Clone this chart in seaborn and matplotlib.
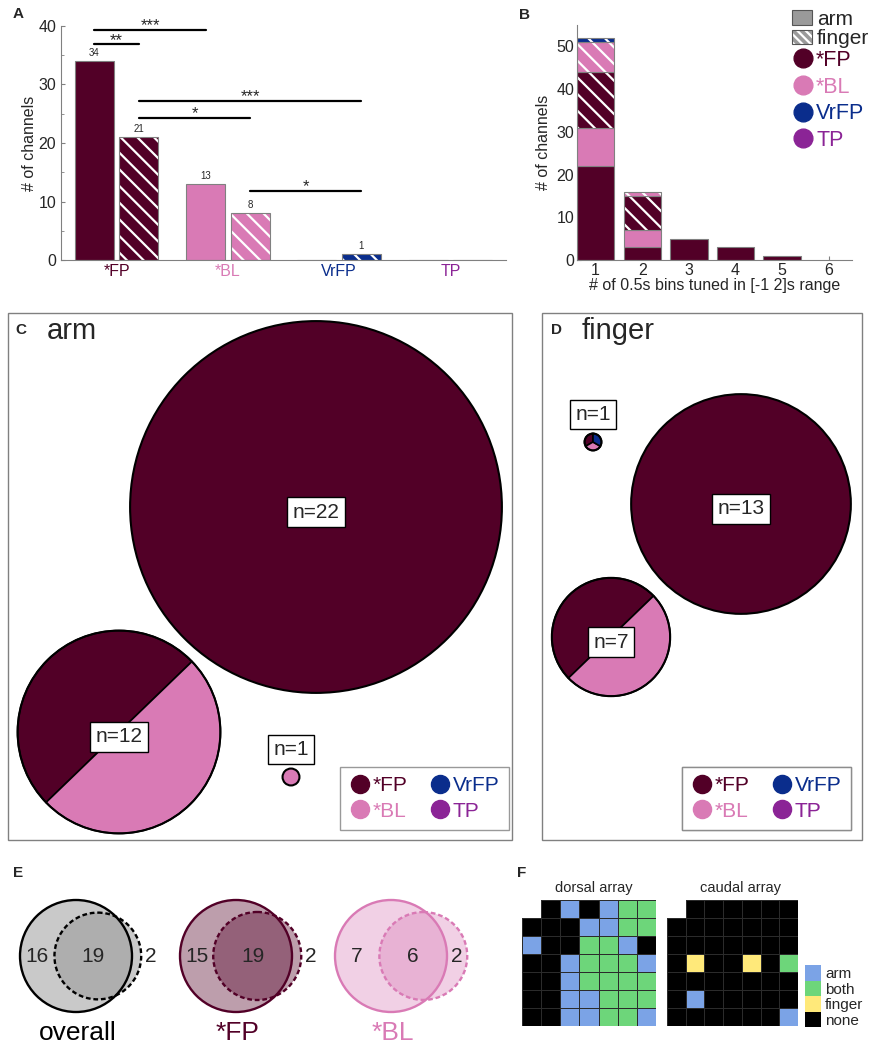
import numpy as np
import pandas as pd
import matplotlib
matplotlib.use("Agg")
import matplotlib.pyplot as plt
import matplotlib.patches as mpatches
from matplotlib.lines import Line2D
from matplotlib.colors import ListedColormap, to_rgba
from matplotlib.ticker import MultipleLocator
import seaborn as sns

sns.set_style("ticks")
plt.rcParams['font.family'] = ['Liberation Sans', 'DejaVu Sans']
plt.rcParams['hatch.linewidth'] = 1.6

W, H = 876, 1050

# ---- data ----
regions = ["*FP", "*BL", "VrFP", "TP"]
region_colors = ["#520027", "#D97AB5", "#0A2D8C", "#8B2496"]
arm_counts = [34, 13, 0, 0]
finger_counts = [21, 8, 1, 0]

# significance bars in A: (region, effector) pairs
sig_from = [("*FP", "arm"), ("*FP", "arm"), ("*FP", "finger"), ("*FP", "finger"), ("*BL", "finger")]
sig_to = [("*BL", "arm"), ("*FP", "finger"), ("VrFP", "finger"), ("*BL", "finger"), ("VrFP", "finger")]
sig_labels = ["***", "**", "***", "*", "*"]
sig_heights = [39.4, 36.9, 27.2, 24.3, 11.8]

# B: stacked counts per number of tuned bins
bins_tuned = [1, 2, 3, 4, 5, 6]
fp_arm_bins = [22, 3, 5, 3, 1, 0]
bl_arm_bins = [9, 4, 0, 0, 0, 0]
fp_finger_bins = [13, 8, 0, 0, 0, 0]
bl_finger_bins = [7, 1, 0, 0, 0, 0]
vrfp_finger_bins = [1, 0, 0, 0, 0, 0]

# C / D: groups of channels tuned in one or more arrays
arm_group_n = [22, 12, 1]
arm_group_regions = [["*FP"], ["*FP", "*BL"], ["*BL"]]
finger_group_n = [13, 7, 1]
finger_group_regions = [["*FP"], ["*FP", "*BL"], ["*FP", "*BL", "VrFP"]]

# E: venn counts (arm only, both, finger only)
venn_names = ["overall", "*FP", "*BL"]
venn_arm_only = [16, 15, 7]
venn_both = [19, 19, 6]
venn_finger_only = [2, 2, 2]

# F: electrode maps  a=arm b=both f=finger n=none .=no electrode
dorsal_map = [".nanabb",
              "nnnaabb",
              "annbban",
              "nnabbba",
              "nnabbbb",
              "nnaabbb",
              "nnaabba"]
caudal_map = [".nnnnnn",
              "nnnnnnn",
              "nnnnnnn",
              "nfnnfnb",
              "nnnnnnn",
              "nannnnn",
              "nnnnnna"]
state_names = ["none", "finger", "both", "arm"]
state_colors = ["#000000", "#FFE97A", "#6DD67A", "#7BA3E6"]

col_of = dict(zip(regions, region_colors))
GRAY = "#808080"

fig = plt.figure(figsize=(W / 100, H / 100), dpi=100)


def add_ax(x0, y0, x1, y1):
    return fig.add_axes([x0 / W, 1 - y1 / H, (x1 - x0) / W, (y1 - y0) / H])


def ftext(x, y, s, **kw):
    fig.text(x / W, 1 - y / H, s, **kw)


def white_hatch(p):
    if hasattr(p, "set_hatchcolor"):
        p.set_hatchcolor("white")
    else:
        p._hatch_color = to_rgba("white")


# ---- A ----
axA = add_ax(61, 26, 506, 260)
dfA = pd.DataFrame({"region": regions * 2,
                    "effector": ["arm"] * 4 + ["finger"] * 4,
                    "count": arm_counts + finger_counts})
sns.barplot(data=dfA, x="region", y="count", hue="effector", order=regions,
            hue_order=["arm", "finger"], ax=axA, gap=0.12, errorbar=None,
            legend=False, edgecolor=GRAY, linewidth=0.8, saturation=1)
centers = {}
for cont, eff, vals in zip(axA.containers, ["arm", "finger"], [arm_counts, finger_counts]):
    for bar, reg in zip(cont, regions):
        bar.set_facecolor(col_of[reg])
        if eff == "finger":
            bar.set_hatch("\\\\")
            white_hatch(bar)
        centers[(reg, eff)] = bar.get_x() + bar.get_width() / 2
    axA.bar_label(cont, labels=[str(v) if v > 0 else "" for v in vals], fontsize=7, padding=2)

for a, b, lab, h in zip(sig_from, sig_to, sig_labels, sig_heights):
    xa, xb = centers[a], centers[b]
    axA.plot([xa, xb], [h, h], color="black", lw=1.6, clip_on=False)
    axA.text((xa + xb) / 2, h - 0.1, lab, ha="center", va="baseline", fontsize=12)

axA.set_xlim(-0.5, 3.5)
axA.set_ylim(0, 40)
axA.set_yticks([0, 10, 20, 30, 40])
axA.yaxis.set_minor_locator(MultipleLocator(5))
axA.tick_params(axis="y", direction="in", length=3, labelsize=11.5, color=GRAY)
axA.tick_params(axis="y", which="minor", direction="in", length=2, color=GRAY)
axA.tick_params(axis="x", length=0, labelsize=11.5, pad=3)
for lbl, c in zip(axA.get_xticklabels(), region_colors):
    lbl.set_color(c)
sns.despine(ax=axA)
for s in ["left", "bottom"]:
    axA.spines[s].set_color(GRAY)
axA.set_xlabel("")
axA.set_ylabel("# of channels", fontsize=11.5, labelpad=1)

# ---- B ----
axB = add_ax(577, 25, 852, 260)
layers = [(fp_arm_bins, col_of["*FP"], False), (bl_arm_bins, col_of["*BL"], False),
          (fp_finger_bins, col_of["*FP"], True), (bl_finger_bins, col_of["*BL"], True),
          (vrfp_finger_bins, col_of["VrFP"], True)]
bottom = np.zeros(len(bins_tuned))
for vals, c, hatched in layers:
    vals = np.array(vals)
    keep = vals > 0
    bars = axB.bar(np.array(bins_tuned)[keep], vals[keep], bottom=bottom[keep], width=0.8,
                   color=c, edgecolor=GRAY, linewidth=0.8)
    if hatched:
        for bar in bars:
            bar.set_hatch("\\\\")
            white_hatch(bar)
    bottom += vals
axB.set_xlim(0.6, 6.5)
axB.set_ylim(0, 55)
axB.set_xticks(bins_tuned)
axB.set_yticks([0, 10, 20, 30, 40, 50])
axB.tick_params(direction="in", length=3, labelsize=11.5, color=GRAY, pad=2)
sns.despine(ax=axB)
for s in ["left", "bottom"]:
    axB.spines[s].set_color(GRAY)
axB.set_xlabel("# of 0.5s bins tuned in [-1 2]s range", fontsize=11.5, labelpad=0)
axB.set_ylabel("# of channels", fontsize=11.5, labelpad=4)

arm_h = mpatches.Patch(facecolor="#9a9a9a", edgecolor="#555555", lw=0.8)
fing_h = mpatches.Patch(facecolor="#9a9a9a", edgecolor="#555555", lw=0.8, hatch="\\\\\\\\")
white_hatch(fing_h)
legB1 = axB.legend([arm_h, fing_h], ["arm", "finger"], loc="upper left",
                   bbox_to_anchor=(792 / W, 1 - 10 / H), bbox_transform=fig.transFigure,
                   frameon=False, fontsize=15, handlelength=0.95, handleheight=0.7,
                   handletextpad=0.25, labelspacing=0.02, borderpad=0, borderaxespad=0)
axB.add_artist(legB1)
dot_h = [Line2D([], [], ls="", marker="o", markersize=13.5, markerfacecolor=c, markeredgecolor=c)
         for c in region_colors]
legB2 = axB.legend(dot_h, regions, loc="upper left",
                   bbox_to_anchor=(793 / W, 1 - 50 / H), bbox_transform=fig.transFigure,
                   frameon=False, fontsize=15.5, handlelength=0.95, handletextpad=0.12,
                   labelspacing=0.26, borderpad=0, borderaxespad=0)
for t, c in zip(legB2.get_texts(), region_colors):
    t.set_color(c)

# ---- overlay for C, D, E ----
ov = fig.add_axes([0, 0, 1, 1])
ov.set_xlim(0, W)
ov.set_ylim(H, 0)
ov.axis("off")

px_per_channel = 8.45


def draw_group(cx, cy, n, regs, start):
    r = px_per_channel * n
    k = len(regs)
    for i, reg in enumerate(regs):
        a1 = start + i * 360 / k
        a2 = a1 + 360 / k
        # y axis is inverted, so mirror angles
        ov.add_patch(mpatches.Wedge((cx, cy), r, -a2, -a1, facecolor=col_of[reg],
                                    edgecolor="black", lw=1.2 if k > 1 else 0))
    ov.add_patch(mpatches.Circle((cx, cy), r, fill=False, edgecolor="black", lw=1.5))
    box = dict(boxstyle="square,pad=0.25", fc="white", ec="black", lw=1)
    if r > 30:
        ov.text(cx, cy + 5, f"n={n}", ha="center", va="center", fontsize=15, bbox=box)
    else:
        ov.text(cx, cy - r - 19, f"n={n}", ha="center", va="center", fontsize=15, bbox=box)


def region_legend(x_right, y_bottom):
    hs = [Line2D([], [], ls="", marker="o", markersize=13, markerfacecolor=c, markeredgecolor=c)
          for c in region_colors]
    leg = ov.legend(hs, regions, ncol=2, loc="lower right", bbox_to_anchor=(x_right, y_bottom),
                    bbox_transform=ov.transData, fontsize=15, frameon=True, fancybox=False,
                    edgecolor=GRAY, handletextpad=0.1, columnspacing=1.1, labelspacing=0.3,
                    borderpad=0.45, handlelength=1.0, borderaxespad=0)
    leg.get_frame().set_linewidth(1)
    for t, c in zip(leg.get_texts(), region_colors):
        t.set_color(c)
    ov.add_artist(leg)


# C
ov.add_patch(mpatches.Rectangle((8, 313), 504, 527, fill=False, ec=GRAY, lw=1))
arm_centers = [(316, 507), (119, 732), (291, 777)]
arm_starts = [90, 44, 90]
for (cx, cy), n, regs, st in zip(arm_centers, arm_group_n, arm_group_regions, arm_starts):
    draw_group(cx, cy, n, regs, st)
region_legend(509, 830)
ftext(21, 330, "C", fontsize=11, fontweight="bold", ha="center", va="center")
ftext(47, 331, "arm", fontsize=21, ha="left", va="center")

# D
ov.add_patch(mpatches.Rectangle((542, 313), 320, 527, fill=False, ec=GRAY, lw=1))
finger_centers = [(741, 504), (611, 637), (593, 442)]
finger_starts = [90, 44, 90]
for (cx, cy), n, regs, st in zip(finger_centers, finger_group_n, finger_group_regions, finger_starts):
    draw_group(cx, cy, n, regs, st)
region_legend(851, 830)
ftext(556, 330, "D", fontsize=11, fontweight="bold", ha="center", va="center")
ftext(582, 331, "finger", fontsize=21, ha="left", va="center")


# E
def lens_area(r1, r2, d):
    if d >= r1 + r2:
        return 0.0
    if d <= abs(r1 - r2):
        return np.pi * min(r1, r2) ** 2
    a1 = r1 ** 2 * np.arccos((d * d + r1 * r1 - r2 * r2) / (2 * d * r1))
    a2 = r2 ** 2 * np.arccos((d * d + r2 * r2 - r1 * r1) / (2 * d * r2))
    a3 = 0.5 * np.sqrt((-d + r1 + r2) * (d + r1 - r2) * (d - r1 + r2) * (d + r1 + r2))
    return a1 + a2 - a3


venn_x = [76, 236, 391]
venn_y = 956
venn_r = 56
venn_colors = ["#949494", col_of["*FP"], col_of["*BL"]]
venn_edges = ["black", col_of["*FP"], col_of["*BL"]]
venn_alpha = [0.5, 0.38, 0.35]
for x0, name, ao, bo, fo, fc, ec, al in zip(venn_x, venn_names, venn_arm_only, venn_both,
                                            venn_finger_only, venn_colors, venn_edges, venn_alpha):
    at, ft = ao + bo, bo + fo
    r2 = venn_r * np.sqrt(ft / at)
    target = bo / at * np.pi * venn_r ** 2
    lo, hi = abs(venn_r - r2), venn_r + r2
    for _ in range(60):
        mid = (lo + hi) / 2
        if lens_area(venn_r, r2, mid) > target:
            lo = mid
        else:
            hi = mid
    d = (lo + hi) / 2
    x2 = x0 + d
    ov.add_patch(mpatches.Circle((x0, venn_y), venn_r, facecolor=fc, alpha=al, lw=0))
    ov.add_patch(mpatches.Circle((x2, venn_y), r2, facecolor=fc, alpha=al, lw=0))
    ov.add_patch(mpatches.Circle((x0, venn_y), venn_r, fill=False, edgecolor=ec, lw=1.7))
    ov.add_patch(mpatches.Circle((x2, venn_y), r2, fill=False, edgecolor=ec, lw=1.7,
                                 ls=(0, (2.0, 1.2))))
    sl, sr, dl, dr = x0 - venn_r, x0 + venn_r, x2 - r2, x2 + r2
    right_x = (sr + dr) / 2 if dr - sr > 14 else dr + 10
    for tx, val in zip([(sl + dl) / 2, (dl + sr) / 2, right_x], [ao, bo, fo]):
        ov.text(tx, venn_y, str(val), ha="center", va="center", fontsize=15)
    ov.text(x0 + 2, 1033, name, ha="center", va="center", fontsize=19,
            color="black" if name == "overall" else ec)
ftext(18, 873, "E", fontsize=11, fontweight="bold", ha="center", va="center")

# ---- F ----
code = {"n": 0, "f": 1, "b": 2, "a": 3}


def to_grid(rows):
    return np.array([[np.nan if ch == "." else code[ch] for ch in r] for r in rows])


cmap = ListedColormap(state_colors)
axF1 = add_ax(522, 900, 656, 1026)
axF2 = add_ax(667, 900, 798, 1026)
cax = add_ax(805, 965, 821, 1027)
for axF, rows, with_cbar in [(axF1, dorsal_map, False), (axF2, caudal_map, True)]:
    sns.heatmap(to_grid(rows), ax=axF, cmap=cmap, vmin=-0.5, vmax=3.5, cbar=with_cbar,
                cbar_ax=cax if with_cbar else None, linewidths=0.6, linecolor="#2b2b2b",
                xticklabels=False, yticklabels=False)
    # blank out the corner without an electrode (no grid lines there)
    for i, r in enumerate(rows):
        for j, ch in enumerate(r):
            if ch == ".":
                axF.add_patch(mpatches.Rectangle((j - 0.1, i - 0.1), 1.1, 1.1, facecolor="white",
                                                 edgecolor="none", clip_on=False, zorder=5))
cb = axF2.collections[0].colorbar
cb.set_ticks([0, 1, 2, 3])
cb.set_ticklabels(state_names)
cax.tick_params(length=0, labelsize=11, pad=3)
cb.outline.set_edgecolor("#cccccc")
ftext(594, 888, "dorsal array", fontsize=10.5, ha="center", va="center")
ftext(741, 888, "caudal array", fontsize=10.5, ha="center", va="center")
ftext(522, 873, "F", fontsize=11, fontweight="bold", ha="center", va="center")

ftext(18, 14, "A", fontsize=11, fontweight="bold", ha="center", va="center")
ftext(524, 15, "B", fontsize=11, fontweight="bold", ha="center", va="center")

fig.savefig("out.png", dpi=100)
